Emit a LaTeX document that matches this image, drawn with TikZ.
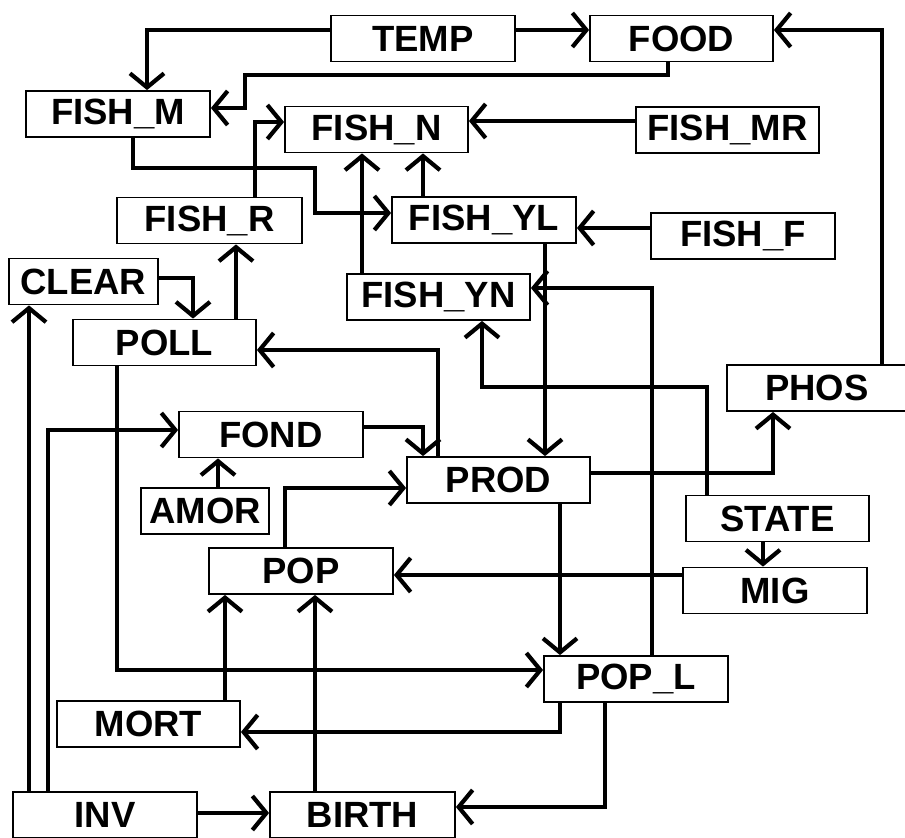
\documentclass[tikz,border=0pt]{standalone}
\usepackage{fontspec}
\setmainfont{Liberation Sans}
\usetikzlibrary{arrows.meta}

\begin{document}
\begin{tikzpicture}[x=1pt,y=-1pt,line cap=butt,line join=miter,
  box/.style={draw,line width=1.8pt,minimum width=184pt,minimum height=46pt,inner sep=0pt,
    font=\fontsize{36.5}{40}\selectfont\bfseries},
  flow/.style={->,line width=4.2pt},
  >={Straight Barb[length=14pt,width=34pt]}]
  \useasboundingbox (0,0) rectangle (905,838);
  \node[box] (temp) at (423,38.5) {TEMP};
  \node[box,minimum width=183pt] (food) at (681.5,38.5) {FOOD};
  \node[box] (fishm) at (118,114) {FISH\_M};
  \node[box,minimum width=183pt] (fishn) at (376.5,129.5) {FISH\_N};
  \node[box,minimum width=183pt] (fishmr) at (727.5,130) {FISH\_MR};
  \node[box,minimum width=185pt] (fishr) at (209.5,220.5) {FISH\_R};
  \node[box] (fishyl) at (484,220) {FISH\_YL};
  \node[box] (fishf) at (743,236) {FISH\_F};
  \node[box,minimum width=149pt] (clear) at (83.5,281.5) {CLEAR};
  \node[box,minimum width=183pt] (fishyn) at (438.5,297) {FISH\_YN};
  \node[box,minimum width=183pt] (poll) at (164.5,342.5) {POLL};
  \node[box,minimum width=180pt] (phos) at (817,388) {PHOS};
  \node[box] (fond) at (271,434.5) {FOND};
  \node[box,minimum width=128pt] (amor) at (205,511) {AMOR};
  \node[box,minimum width=183pt] (prod) at (498.5,480) {PROD};
  \node[box,minimum width=183pt] (state) at (777.5,518.5) {STATE};
  \node[box] (mig) at (775,590.5) {MIG};
  \node[box] (pop) at (301,571) {POP};
  \node[box] (popl) at (636,679) {POP\_L};
  \node[box,minimum width=183pt] (mort) at (148.5,724) {MORT};
  \node[box] (inv) at (105,815) {INV};
  \node[box,minimum width=185pt] (birth) at (362.5,815) {BIRTH};
  \draw[flow] (temp.west |- 0,30) -| (fishm.north -| 147,0);
  \draw[flow] (temp.east |- 0,30) -- (food.west |- 0,30);
  \draw[flow] (food.south -| 668,0) |- (245,75) |- (fishm.east |- 0,108);
  \draw[flow] (phos.north -| 882,0) |- (food.east |- 0,30);
  \draw[flow] (fishm.south -| 133,0) |- (315,168) |- (fishyl.west |- 0,213);
  \draw[flow] (fishr.north -| 255,0) |- (fishn.west |- 0,122);
  \draw[flow] (fishmr.west |- 0,121) -- (fishn.east |- 0,121);
  \draw[flow] (fishyn.north -| 362,0) -- (fishn.south -| 362,0);
  \draw[flow] (fishyl.north -| 423,0) -- (fishn.south -| 423,0);
  \draw[flow] (fishf.west |- 0,228) -- (fishyl.east |- 0,228);
  \draw[flow] (clear.east |- 0,278) -| (poll.north -| 193,0);
  \draw[flow] (poll.north -| 236,0) -- (fishr.south -| 236,0);
  \draw[flow] (inv.north -| 29,0) -- (clear.south -| 29,0);
  \draw[flow] (inv.north -| 48,0) |- (fond.west |- 0,430);
  \draw[flow] (amor.north -| 218,0) -- (fond.south -| 218,0);
  \draw[flow] (fond.east |- 0,427) -| (prod.north -| 423,0);
  \draw[flow] (prod.north -| 438,0) |- (poll.east |- 0,350);
  \draw[flow] (fishyl.south -| 545,0) -- (prod.north -| 545,0);
  \draw[flow] (popl.north -| 652,0) |- (fishyn.east |- 0,288);
  \draw[flow] (state.north -| 707,0) |- (482,387) -- (fishyn.south -| 482,0);
  \draw[flow] (prod.east |- 0,473) -| (phos.south -| 773,0);
  \draw[flow] (pop.north -| 285,0) |- (prod.west |- 0,488);
  \draw[flow] (state.south -| 763,0) -- (mig.north -| 763,0);
  \draw[flow] (mig.west |- 0,575) -- (pop.east |- 0,575);
  \draw[flow] (prod.south -| 560,0) -- (popl.north -| 560,0);
  \draw[flow] (poll.south -| 117,0) |- (popl.west |- 0,670);
  \draw[flow] (popl.south -| 560,0) |- (mort.east |- 0,732);
  \draw[flow] (mort.north -| 225,0) -- (pop.south -| 225,0);
  \draw[flow] (birth.north -| 315,0) -- (pop.south -| 315,0);
  \draw[flow] (popl.south -| 605,0) |- (birth.east |- 0,807);
  \draw[flow] (inv.east |- 0,813) -- (birth.west |- 0,813);
\end{tikzpicture}
\end{document}
